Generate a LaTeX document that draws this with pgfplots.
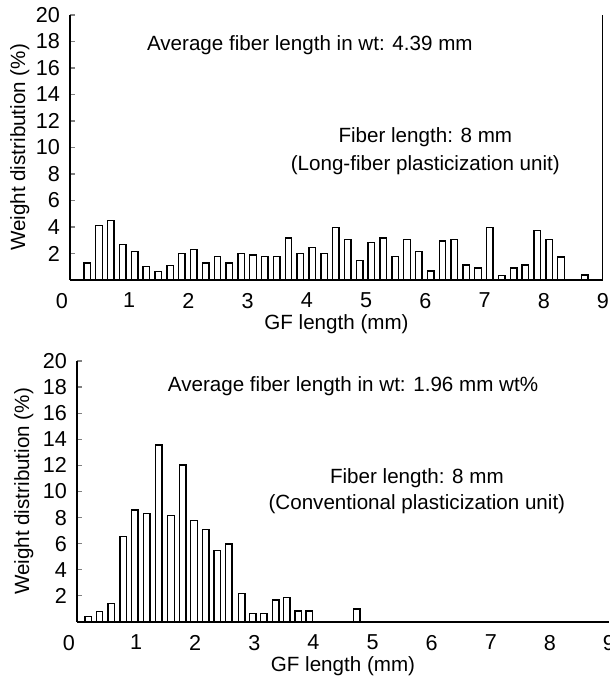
\documentclass[border=0pt]{standalone}
\usepackage{pgfplots}
\pgfplotsset{compat=1.18}
\usepackage{fontspec}
\setmainfont{Liberation Sans}

\pgfplotstableread{
x y
0.29 1.29
0.49 4.13
0.69 4.48
0.89 2.66
1.09 2.13
1.29 1.01
1.49 0.66
1.69 1.11
1.89 2.00
2.09 2.28
2.29 1.29
2.49 1.77
2.69 1.29
2.89 2.00
3.09 1.90
3.29 1.77
3.49 1.77
3.69 3.16
3.89 2.00
4.09 2.43
4.29 2.00
4.49 3.97
4.69 3.06
4.89 1.49
5.09 2.81
5.29 3.16
5.49 1.77
5.69 3.06
5.89 2.13
6.09 0.68
6.29 2.94
6.49 3.06
6.69 1.14
6.89 0.91
7.09 3.97
7.29 0.35
7.49 0.91
7.69 1.14
7.89 3.75
8.09 3.06
8.29 1.75
8.69 0.38
}\toptable

\pgfplotstableread{
x y
0.19 0.41
0.38 0.79
0.58 1.43
0.78 6.56
0.98 8.57
1.18 8.32
1.38 13.57
1.59 8.16
1.79 12.04
1.98 7.78
2.18 7.09
2.37 5.48
2.57 5.98
2.79 2.17
2.97 0.65
3.16 0.65
3.36 1.70
3.55 1.87
3.74 0.85
3.93 0.85
4.73 1.00
}\bottable

\newcommand{\fs}{\fontsize{10.3}{12}\selectfont}
\newcommand{\ft}{\fontsize{10.8}{12}\selectfont}

\pgfplotsset{
  panel/.style={
    scale only axis,
    anchor=south west,
    xmin=0, xmax=9, ymin=0, ymax=20,
    axis x line*=bottom, axis y line*=left,
    axis line style={-, line width=0.8pt},
    xtick={1,...,9},
    extra x ticks={0},
    extra x tick style={xticklabel style={xshift=-4pt}},
    ytick={2,4,...,20},
    tick align=inside,
    major tick length=2.5pt,
    ytick style={line width=0.6pt},
    xtick style={draw=none},
    /pgf/number format/assume math mode=true,
    tick label style={font=\ft},
    label style={font=\fs},
    xticklabel style={yshift=-0.5pt},
    yticklabel style={xshift=-1.5pt},
    ybar, bar width=0.11, bar shift=0pt,
  },
  barsty/.style={draw=black, fill=white, line width=0.7pt},
}

\begin{document}
\begin{tikzpicture}
\begin{axis}[panel,
  at={(35pt,201.5pt)}, width=266.5pt, height=132.5pt,
  xlabel={GF length (mm)}, ylabel={Weight distribution (\%)},
  xlabel style={at={(axis description cs:0.5,-0.168)}, anchor=center},
  ylabel style={at={(axis description cs:-0.094,0.5)}, anchor=center},
]
\addplot[barsty] table[x=x,y=y] {\toptable};
\draw[line width=0.8pt] (rel axis cs:1,0) -- (rel axis cs:1,1);
\node[font=\fs] at (axis cs:4.05,17.7) {Average fiber length in wt: 4.39 mm};
\node[font=\fs] at (axis cs:6.0,10.8) {Fiber length: 8 mm};
\node[font=\fs] at (axis cs:6.0,8.7) {(Long-fiber plasticization unit)};
\end{axis}

\begin{axis}[panel,
  at={(38.5pt,30.5pt)}, width=266pt, height=130.5pt,
  xlabel={GF length (mm)}, ylabel={Weight distribution (\%)},
  xlabel style={at={(axis description cs:0.5,-0.168)}, anchor=center},
  ylabel style={at={(axis description cs:-0.10,0.5)}, anchor=center},
]
\addplot[barsty] table[x=x,y=y] {\bottable};
\node[font=\fs] at (axis cs:4.67,18.1) {Average fiber length in wt: 1.96 mm wt\%};
\node[font=\fs] at (axis cs:5.75,11.0) {Fiber length: 8 mm};
\node[font=\fs] at (axis cs:5.75,9.04) {(Conventional plasticization unit)};
\end{axis}
\pgfresetboundingbox
\path[use as bounding box] (0pt,0pt) rectangle (304.5pt,341.5pt);
\end{tikzpicture}
\end{document}
